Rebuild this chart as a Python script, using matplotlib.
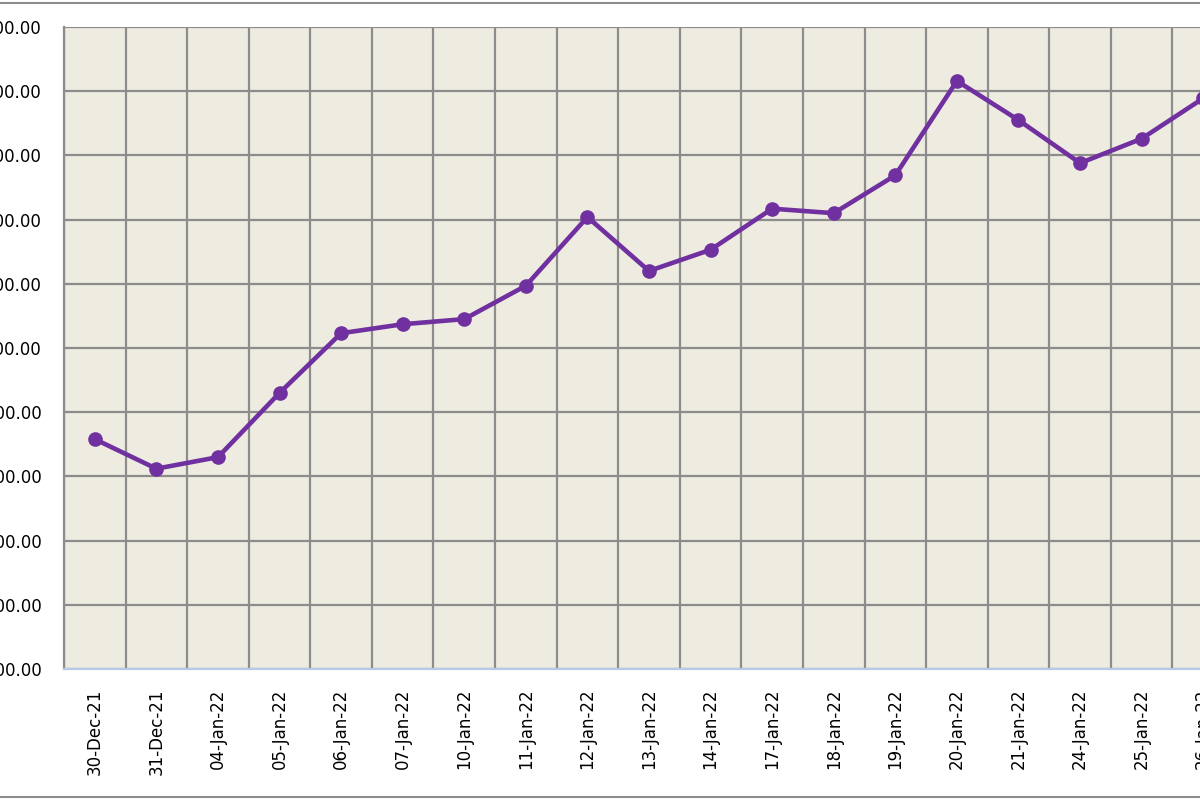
import matplotlib
matplotlib.use("Agg")
import matplotlib.pyplot as plt
from matplotlib.lines import Line2D

dates = ["30-Dec-21", "31-Dec-21", "04-Jan-22", "05-Jan-22", "06-Jan-22", "07-Jan-22",
         "10-Jan-22", "11-Jan-22", "12-Jan-22", "13-Jan-22", "14-Jan-22", "17-Jan-22",
         "18-Jan-22", "19-Jan-22", "20-Jan-22", "21-Jan-22", "24-Jan-22", "25-Jan-22",
         "26-Jan-22"]
values = [1858, 1812, 1830, 1930, 2023, 2037, 2045, 2097, 2204, 2120, 2153, 2217,
          2210, 2269, 2416, 2355, 2288, 2326, 2389]
y_ticks = [1500, 1600, 1700, 1800, 1900, 2000, 2100, 2200, 2300, 2400, 2500]

plt.rcParams['font.family'] = ['DejaVu Sans']

fig = plt.figure(figsize=(12, 8), dpi=100)
fig.patch.set_facecolor('white')
ax = fig.add_axes([64 / 1200, 1 - 669 / 800, (1234 - 64) / 1200, (669 - 27) / 800])
ax.set_facecolor('#EEEBE0')

x = list(range(len(dates)))
ax.plot(x, values, color='#7030A0', lw=3.3, marker='o', markersize=9.5, zorder=3,
        solid_joinstyle='round')

ax.set_xlim(-0.5, len(dates) - 0.5)
ax.set_ylim(y_ticks[0], y_ticks[-1])
ax.set_yticks(y_ticks)
ax.set_yticklabels([f"{v:,.2f}" for v in y_ticks])
ax.set_xticks(x)
ax.set_xticklabels(dates, rotation=90)

ax.grid(False)
for v in y_ticks:
    ax.axhline(v, color='#8C8C8C', lw=1.6, zorder=1)
for i in range(len(dates) + 1):
    ax.axvline(i - 0.5, color='#8C8C8C', lw=1.6, zorder=1)

ax.tick_params(axis='both', which='both', length=0, labelsize=12, colors='black')
ax.tick_params(axis='y', pad=16)
ax.tick_params(axis='x', pad=14)
for s in ['top', 'right']:
    ax.spines[s].set_visible(False)
ax.spines['left'].set_color('#8C8C8C')
ax.spines['left'].set_linewidth(1.6)
ax.spines['bottom'].set_color('#B9C9E8')
ax.spines['bottom'].set_linewidth(1.6)

fig.add_artist(Line2D([0, 1], [1 - 3 / 800, 1 - 3 / 800], color='#8C8C8C', lw=1.5,
                      transform=fig.transFigure))
fig.add_artist(Line2D([0, 1], [1 - 797 / 800, 1 - 797 / 800], color='#8C8C8C', lw=1.5,
                      transform=fig.transFigure))

fig.savefig('out.png', dpi=100, facecolor='white')
